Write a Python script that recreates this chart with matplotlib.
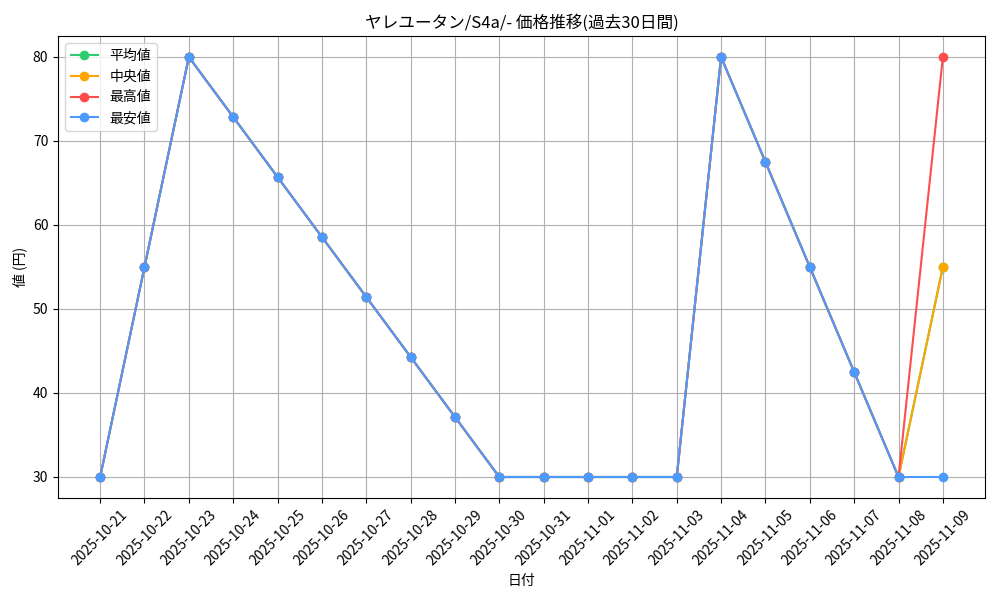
import matplotlib
matplotlib.use("Agg")
import matplotlib.pyplot as plt

plt.rcParams['font.family'] = ['Noto Sans CJK JP', 'DejaVu Sans']

dates = ["2025-10-21", "2025-10-22", "2025-10-23", "2025-10-24", "2025-10-25",
         "2025-10-26", "2025-10-27", "2025-10-28", "2025-10-29", "2025-10-30",
         "2025-10-31", "2025-11-01", "2025-11-02", "2025-11-03", "2025-11-04",
         "2025-11-05", "2025-11-06", "2025-11-07", "2025-11-08", "2025-11-09"]
avg_vals = [30, 55, 80, 72.86, 65.71, 58.57, 51.43, 44.29, 37.14, 30,
            30, 30, 30, 30, 80, 67.5, 55, 42.5, 30, 55]
med_vals = [30, 55, 80, 72.86, 65.71, 58.57, 51.43, 44.29, 37.14, 30,
            30, 30, 30, 30, 80, 67.5, 55, 42.5, 30, 55]
max_vals = [30, 55, 80, 72.86, 65.71, 58.57, 51.43, 44.29, 37.14, 30,
            30, 30, 30, 30, 80, 67.5, 55, 42.5, 30, 80]
min_vals = [30, 55, 80, 72.86, 65.71, 58.57, 51.43, 44.29, 37.14, 30,
            30, 30, 30, 30, 80, 67.5, 55, 42.5, 30, 30]

fig, ax = plt.subplots(figsize=(10, 6), dpi=100)
ax.plot(dates, avg_vals, marker='o', color='#2ecc71', label='平均値', linewidth=1.5, markersize=6)
ax.plot(dates, med_vals, marker='o', color='#ffa500', label='中央値', linewidth=1.5, markersize=6)
ax.plot(dates, max_vals, marker='o', color='#ff4d4d', label='最高値', linewidth=1.5, markersize=6)
ax.plot(dates, min_vals, marker='o', color='#4d9aff', label='最安値', linewidth=1.5, markersize=6)

ax.set_title('ヤレユータン/S4a/- 価格推移(過去30日間)')
ax.set_xlabel('日付')
ax.set_ylabel('値 (円)')
ax.grid(True)
ax.legend(loc='upper left')
plt.xticks(rotation=45)
fig.subplots_adjust(left=0.058, right=0.985, top=0.94, bottom=0.17)
fig.savefig('out.png')
